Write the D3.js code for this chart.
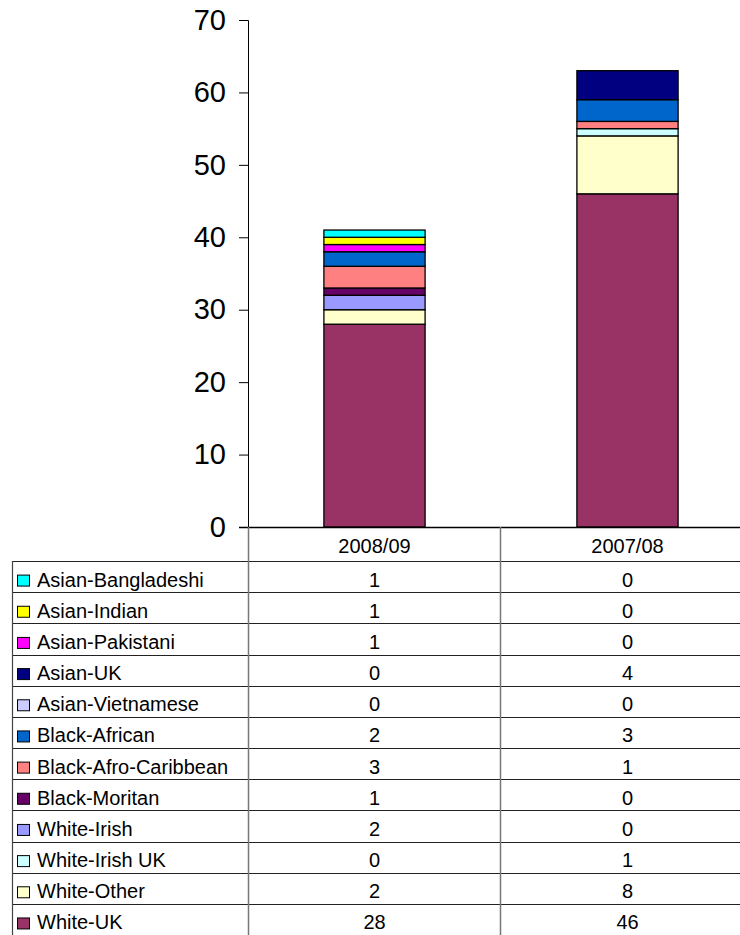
<!DOCTYPE html>
<html lang="en">
<head>
<meta charset="utf-8">
<title>Stacked bars with data table</title>
<script src="https://cdn.jsdelivr.net/npm/d3@7"></script>
<style>
  body { margin: 0; background: #fff; }
  svg { display: block; font-family: "Liberation Sans", Arial, sans-serif; }
</style>
</head>
<body>
<div id="chart"></div>
<script>
// data, in table order (top to bottom)
var periods = ["2008/09", "2007/08"];
var groups = ["Asian-Bangladeshi", "Asian-Indian", "Asian-Pakistani", "Asian-UK",
  "Asian-Vietnamese", "Black-African", "Black-Afro-Caribbean", "Black-Moritan",
  "White-Irish", "White-Irish UK", "White-Other", "White-UK"];
var values0809 = [1, 1, 1, 0, 0, 2, 3, 1, 2, 0, 2, 28];
var values0708 = [0, 0, 0, 4, 0, 3, 1, 0, 0, 1, 8, 46];
var colours = ["#00ffff", "#ffff00", "#ff00ff", "#000080", "#ccccff", "#0066cc",
  "#ff8080", "#660066", "#9999ff", "#ccffff", "#ffffcc", "#993366"];
var yTicks = [0, 10, 20, 30, 40, 50, 60, 70];

var W = 740, H = 935;
var svg = d3.select("#chart").append("svg").attr("width", W).attr("height", H);

var axisX = 248, baseY = 527;
var x = d3.scaleBand().domain(periods).range([axisX, 754]).paddingInner(0.6).paddingOuter(0.3);
var y = d3.scaleLinear().domain([0, 70]).range([baseY, 20]);

// rows keyed by period, for the stack
var rows = periods.map(function(p, i) {
  var r = { period: p };
  var vals = i === 0 ? values0809 : values0708;
  groups.forEach(function(g, j) { r[g] = vals[j]; });
  return r;
});
// stack bottom-up: last group in the table sits at the bottom
var stackKeys = groups.slice().reverse();
var series = d3.stack().keys(stackKeys)(rows);
var colour = d3.scaleOrdinal().domain(groups).range(colours);

var layers = svg.append("g").selectAll("g")
  .data(series).enter().append("g")
    .attr("fill", function(s) { return colour(s.key); });
layers.selectAll("rect")
  .data(function(s) { return s.filter(function(d) { return d[1] - d[0] > 0; }); })
  .enter().append("rect")
    .attr("x", function(d) { return x(d.data.period); })
    .attr("width", x.bandwidth())
    .attr("y", function(d) { return y(d[1]); })
    .attr("height", function(d) { return y(d[0]) - y(d[1]); })
    .attr("stroke", "#000")
    .attr("stroke-width", 1.3);

// y axis
var yAxis = svg.append("g")
  .attr("transform", "translate(" + axisX + ",0)")
  .call(d3.axisLeft(y).tickValues(yTicks).tickSize(9).tickPadding(13));
yAxis.select(".domain").attr("stroke", "#000").attr("d", "M-9,20.5H0.5V" + baseY);
yAxis.selectAll(".tick line").attr("stroke", "#000");
yAxis.selectAll(".tick text").attr("font-size", 29).attr("fill", "#000")
  .attr("font-family", "Liberation Sans, Arial, sans-serif");

// data table
var table = svg.append("g");
var tableLeft = 12, rowTop = 561, rowH = 31.17, fs = 20;
var colEdges = [axisX, 500, 754];

// horizontal lines
table.append("line").attr("x1", axisX - 9).attr("x2", W).attr("y1", baseY + 0.5).attr("y2", baseY + 0.5)
  .attr("stroke", "#000").attr("stroke-width", 1.5);
for (var i = 0; i <= groups.length; i++) {
  var yy = Math.round(rowTop + i * rowH) + 0.5;
  table.append("line").attr("x1", tableLeft).attr("x2", W).attr("y1", yy).attr("y2", yy)
    .attr("stroke", "#222").attr("stroke-width", 1.2);
}
// vertical lines
table.append("line").attr("x1", tableLeft + 0.5).attr("x2", tableLeft + 0.5)
  .attr("y1", rowTop).attr("y2", H).attr("stroke", "#444").attr("stroke-width", 1.2);
colEdges.slice(0, 2).forEach(function(cx) {
  table.append("line").attr("x1", cx + 0.5).attr("x2", cx + 0.5)
    .attr("y1", baseY).attr("y2", H).attr("stroke", "#777").attr("stroke-width", 1.5);
});

// header cells
periods.forEach(function(p) {
  table.append("text").attr("x", x(p) + x.bandwidth() / 2).attr("y", 553)
    .attr("text-anchor", "middle").attr("font-size", fs).text(p);
});

// body rows
groups.forEach(function(g, i) {
  var cy = rowTop + i * rowH + rowH / 2;
  table.append("rect").attr("x", 17.5).attr("y", cy - 1.5).attr("width", 12).attr("height", 11)
    .attr("fill", colour(g)).attr("stroke", "#000").attr("stroke-width", 1);
  table.append("text").attr("x", 37).attr("y", cy + 10).attr("font-size", fs).text(g);
  rows.forEach(function(r) {
    table.append("text").attr("x", x(r.period) + x.bandwidth() / 2).attr("y", cy + 10)
      .attr("text-anchor", "middle").attr("font-size", fs).text(r[g]);
  });
});
</script>
</body>
</html>
